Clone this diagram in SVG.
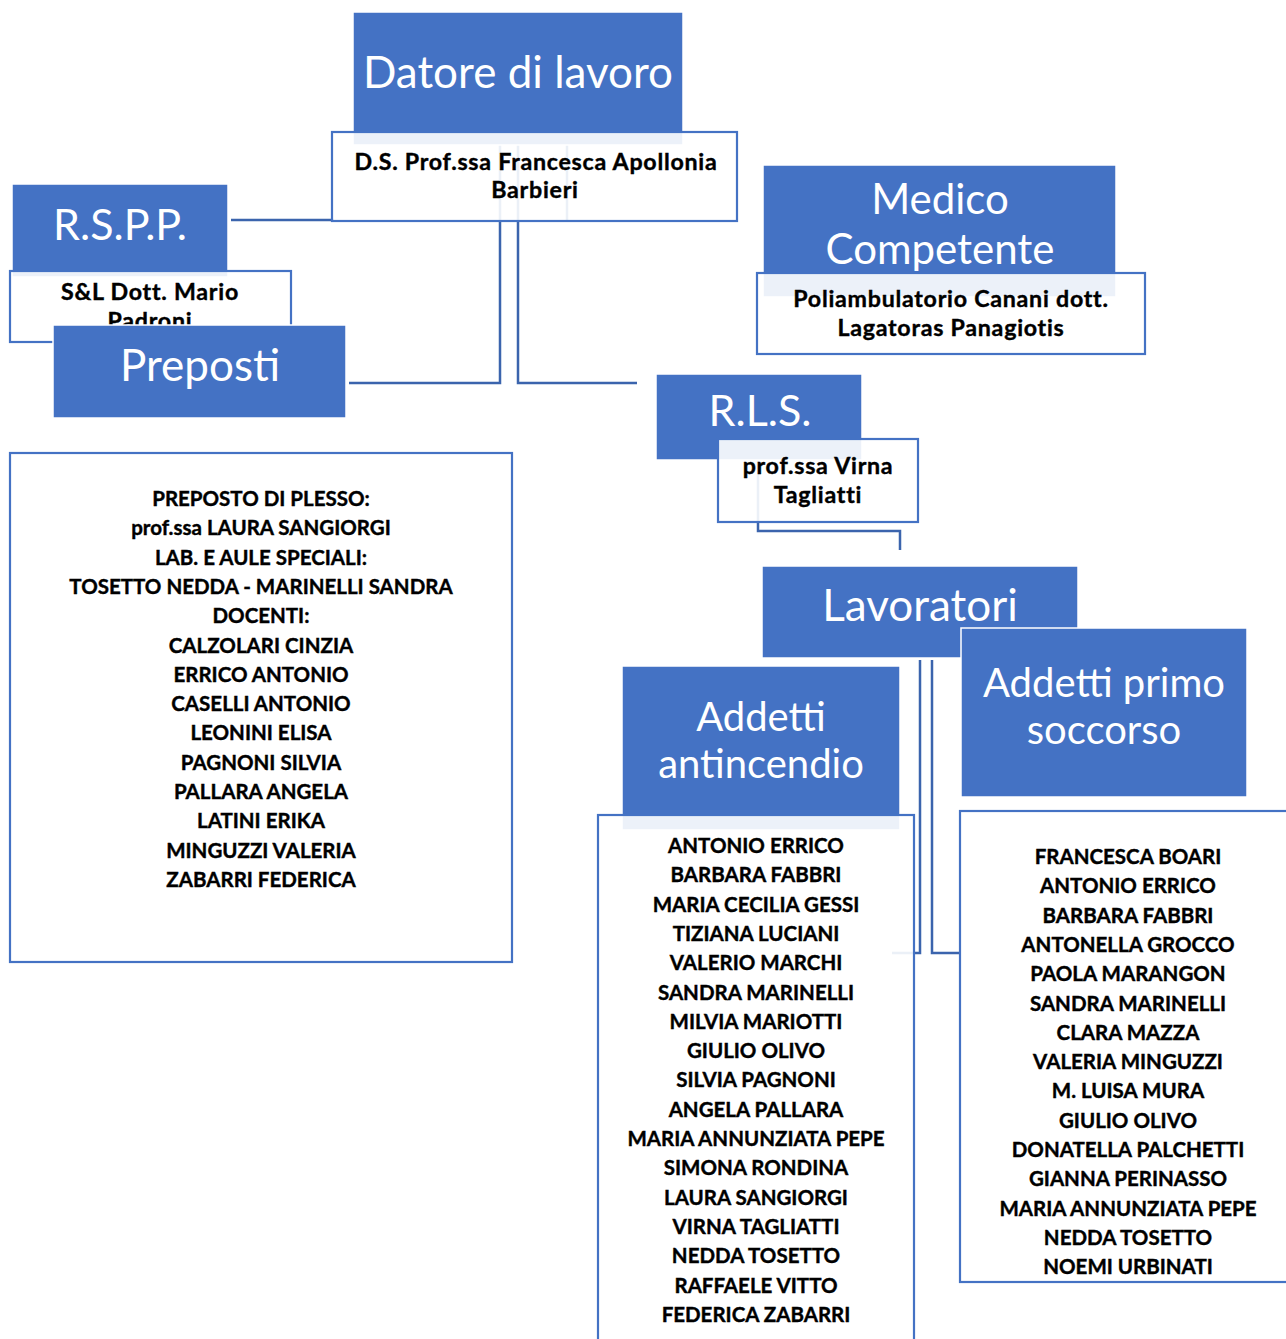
<svg xmlns="http://www.w3.org/2000/svg" width="1286" height="1339" viewBox="0 0 1286 1339">
<style>
.hb{fill:#4472C4;stroke:#ffffff;stroke-width:1.5}
.wb{fill:#ffffff;fill-opacity:0.9;stroke:#4472C4;stroke-width:2.2}
.ht{font-family:Lato,"Liberation Sans",sans-serif;fill:#ffffff;text-anchor:middle}
.bt{font-family:Lato,"Liberation Sans",sans-serif;font-weight:bold;fill:#000000;stroke:#000000;stroke-width:0.4;text-anchor:middle;font-size:20.5px}
.lb{font-size:23.2px;letter-spacing:0.75px}
.cn{fill:none;stroke:#3B64AD;stroke-width:2.5}
</style>
<rect width="1286" height="1339" fill="#ffffff"/>
<g id="connectors">
<path class="cn" d="M231 220 H334"/>
<path class="cn" d="M500 145 V383 H349"/>
<path class="cn" d="M518 145 V383 H637"/>
<path class="cn" d="M567 145 V221"/>
<path class="cn" d="M758 460 V531 H900 V550"/>
<path class="cn" d="M920 660 V953 H892"/>
<path class="cn" d="M932 660 V953 H960"/>
</g>
<g id="datore">
<rect class="hb" x="353" y="12" width="330" height="133"/>
<text class="ht" x="518" y="88" font-size="44">Datore di lavoro</text>
<rect class="wb" x="332" y="132" width="405" height="89"/>
<text class="bt lb" x="536" y="170">D.S. Prof.ssa Francesca Apollonia</text>
<text class="bt lb" x="535" y="198">Barbieri</text>
</g>
<g id="rspp">
<rect class="hb" x="12" y="184" width="216" height="93"/>
<text class="ht" x="120" y="240" font-size="43">R.S.P.P.</text>
<rect class="wb" x="10" y="271" width="281" height="71"/>
<text class="bt lb" x="150" y="300">S&amp;L Dott. Mario</text>
<text class="bt lb" x="150" y="329">Padroni</text>
</g>
<g id="preposti">
<rect class="hb" x="53" y="325" width="293" height="93"/>
<text class="ht" x="200" y="381" font-size="44">Preposti</text>
</g>
<g id="preposti-list">
<rect class="wb" x="10" y="453" width="502" height="509"/>
<text class="bt" x="261" y="506">PREPOSTO DI PLESSO:</text>
<text class="bt" x="261" y="535.3">prof.ssa LAURA SANGIORGI</text>
<text class="bt" x="261" y="564.6">LAB. E AULE SPECIALI:</text>
<text class="bt" x="261" y="593.9">TOSETTO NEDDA - MARINELLI SANDRA</text>
<text class="bt" x="261" y="623.2">DOCENTI:</text>
<text class="bt" x="261" y="652.5">CALZOLARI CINZIA</text>
<text class="bt" x="261" y="681.8">ERRICO ANTONIO</text>
<text class="bt" x="261" y="711.1">CASELLI ANTONIO</text>
<text class="bt" x="261" y="740.4">LEONINI ELISA</text>
<text class="bt" x="261" y="769.7">PAGNONI SILVIA</text>
<text class="bt" x="261" y="799">PALLARA ANGELA</text>
<text class="bt" x="261" y="828.3">LATINI ERIKA</text>
<text class="bt" x="261" y="857.6">MINGUZZI VALERIA</text>
<text class="bt" x="261" y="886.9">ZABARRI FEDERICA</text>
</g>
<g id="medico">
<rect class="hb" x="763" y="165" width="353" height="132"/>
<text class="ht" x="940" y="214" font-size="42">Medico</text>
<text class="ht" x="940" y="264" font-size="42">Competente</text>
<rect class="wb" x="757" y="273" width="388" height="81"/>
<text class="bt lb" x="951" y="307">Poliambulatorio Canani dott.</text>
<text class="bt lb" x="951" y="336">Lagatoras Panagiotis</text>
</g>
<g id="rls">
<rect class="hb" x="656" y="374" width="206" height="86"/>
<text class="ht" x="760" y="426" font-size="43">R.L.S.</text>
<rect class="wb" x="718" y="439" width="200" height="83"/>
<text class="bt lb" x="818" y="474">prof.ssa Virna</text>
<text class="bt lb" x="818" y="503">Tagliatti</text>
</g>
<g id="lavoratori">
<rect class="hb" x="762" y="566" width="316" height="92"/>
<text class="ht" x="920" y="621" font-size="44">Lavoratori</text>
</g>
<g id="antincendio">
<rect class="hb" x="622" y="666" width="278" height="164"/>
<text class="ht" x="761" y="731" font-size="40">Addetti</text>
<text class="ht" x="761" y="778" font-size="40">antincendio</text>
</g>
<g id="antincendio-list">
<rect class="wb" x="598" y="815" width="316" height="540"/>
<text class="bt" x="756" y="853">ANTONIO ERRICO</text>
<text class="bt" x="756" y="882.3">BARBARA FABBRI</text>
<text class="bt" x="756" y="911.6">MARIA CECILIA GESSI</text>
<text class="bt" x="756" y="940.9">TIZIANA LUCIANI</text>
<text class="bt" x="756" y="970.2">VALERIO MARCHI</text>
<text class="bt" x="756" y="999.5">SANDRA MARINELLI</text>
<text class="bt" x="756" y="1028.8">MILVIA MARIOTTI</text>
<text class="bt" x="756" y="1058.1">GIULIO OLIVO</text>
<text class="bt" x="756" y="1087.4">SILVIA PAGNONI</text>
<text class="bt" x="756" y="1116.7">ANGELA PALLARA</text>
<text class="bt" x="756" y="1146">MARIA ANNUNZIATA PEPE</text>
<text class="bt" x="756" y="1175.3">SIMONA RONDINA</text>
<text class="bt" x="756" y="1204.6">LAURA SANGIORGI</text>
<text class="bt" x="756" y="1233.9">VIRNA TAGLIATTI</text>
<text class="bt" x="756" y="1263.2">NEDDA TOSETTO</text>
<text class="bt" x="756" y="1292.5">RAFFAELE VITTO</text>
<text class="bt" x="756" y="1321.8">FEDERICA ZABARRI</text>
</g>
<g id="soccorso">
<rect class="hb" x="961" y="628" width="286" height="169" stroke-width="2.5"/>
<text class="ht" x="1104" y="697" font-size="40">Addetti primo</text>
<text class="ht" x="1104" y="744" font-size="40">soccorso</text>
</g>
<g id="soccorso-list">
<rect class="wb" x="960" y="811" width="340" height="471"/>
<text class="bt" x="1128" y="864">FRANCESCA BOARI</text>
<text class="bt" x="1128" y="893.3">ANTONIO ERRICO</text>
<text class="bt" x="1128" y="922.6">BARBARA FABBRI</text>
<text class="bt" x="1128" y="951.9">ANTONELLA GROCCO</text>
<text class="bt" x="1128" y="981.2">PAOLA MARANGON</text>
<text class="bt" x="1128" y="1010.5">SANDRA MARINELLI</text>
<text class="bt" x="1128" y="1039.8">CLARA MAZZA</text>
<text class="bt" x="1128" y="1069.1">VALERIA MINGUZZI</text>
<text class="bt" x="1128" y="1098.4">M. LUISA MURA</text>
<text class="bt" x="1128" y="1127.7">GIULIO OLIVO</text>
<text class="bt" x="1128" y="1157">DONATELLA PALCHETTI</text>
<text class="bt" x="1128" y="1186.3">GIANNA PERINASSO</text>
<text class="bt" x="1128" y="1215.6">MARIA ANNUNZIATA PEPE</text>
<text class="bt" x="1128" y="1244.9">NEDDA TOSETTO</text>
<text class="bt" x="1128" y="1274.2">NOEMI URBINATI</text>
</g>
</svg>
